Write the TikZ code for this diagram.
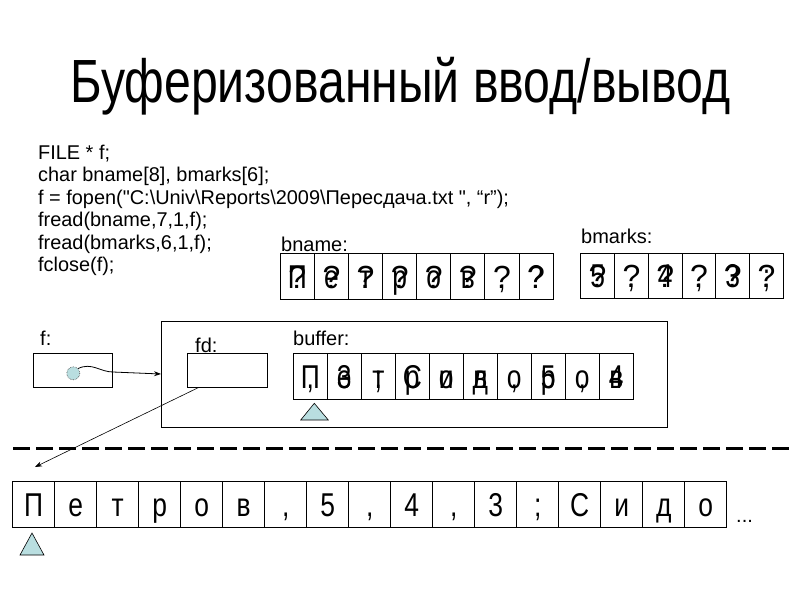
\documentclass[tikz,border=0pt]{standalone}
\usepackage{fontspec}
\setmainfont{Liberation Sans}
\newfontfamily\rawfont[Ligatures=TeXOff]{Liberation Sans}
\newfontfamily\narrowfont[FakeStretch=0.8]{Liberation Sans}
\newfontfamily\titlefont[FakeStretch=0.79]{Liberation Sans}
\usetikzlibrary{arrows.meta}
\definecolor{tri}{RGB}{185,222,224}
\newcommand\cm{,}
\newcommand\sq{{\rawfont"}}
\begin{document}
\begin{tikzpicture}[x=1pt,y=-1pt,
  box/.style={draw,line width=1pt,inner sep=0pt,outer sep=0pt},
  lbl/.style={anchor=base west,inner sep=0pt,font=\fontsize{20}{20}\selectfont},
  codeline/.style={anchor=base west,inner sep=0pt,font=\fontsize{19.9}{19.9}\selectfont},
  chr/.style={anchor=base,inner sep=0pt,font=\narrowfont\fontsize{33}{33}\selectfont},
  qm/.style={anchor=base,inner sep=0pt,font=\fontsize{32}{32}\selectfont},
  marker/.style={draw,line width=0.6pt,fill=tri},
  conn/.style={line width=0.8pt,-{Stealth[length=7pt,width=5pt]}}]
\useasboundingbox (0,0) rectangle (800,600);
\fill[white] (0,0) rectangle (800,600);

% title
\node[anchor=base,inner sep=0pt,font=\titlefont\fontsize{61}{61}\selectfont] (title) at (400.5,102) {Буферизованный ввод/вывод};

% code
\node[codeline] (c1) at (38,159.3) {FILE * f;};
\node[codeline] (c2) at (38,181.7) {char bname[8], bmarks[6];};
\node[codeline] (c3) at (38,204) {f = fopen(\sq C:\textbackslash Univ\textbackslash Reports\textbackslash 2009\textbackslash Пересдача.txt \sq, “r”);};
\node[codeline] (c4) at (38,226.7) {fread(bname,7,1,f);};
\node[codeline] (c5) at (38,249) {fread(bmarks,6,1,f);};
\node[codeline] (c6) at (38,271.7) {fclose(f);};

% bname
\node[lbl] (bnamelbl) at (281,251) {bname:};
\foreach \a/\b [count=\i] in {П/?,е/?,т/?,р/?,о/?,в/?,\cm/?,?/?}{
  \node[box,minimum width=34.1pt,minimum height=46pt] (bn\i) at ({280.3+(\i-0.5)*34.1},276) {};
  \node[chr] (bna\i) at ({280.3+(\i-0.5)*34.1},288) {\a};
  \node[qm] (bnb\i) at ({280.3+(\i-0.5)*34.1},288) {\b};
}

% bmarks
\node[lbl] (bmarkslbl) at (581,243) {bmarks:};
\foreach \a/\b [count=\i] in {5/?,\cm/?,4/?,\cm/?,3/?,;/?}{
  \node[box,minimum width=33.8pt,minimum height=45pt] (bm\i) at ({580.7+(\i-0.5)*33.8},275.8) {};
  \node[chr] (bma\i) at ({580.7+(\i-0.5)*33.8},287.8) {\a};
  \node[qm] (bmb\i) at ({580.7+(\i-0.5)*33.8},287.8) {\b};
}

% f
\node[lbl] (flbl) at (40,345) {f:};
\node[box,minimum width=79.4pt,minimum height=34.4pt] (fbox) at (73,370.5) {};
\node[circle,draw=black!70,densely dotted,line width=0.6pt,fill=tri,minimum size=13pt,inner sep=0pt] (fc) at (73.3,373.3) {};

% big structure
\node[box,minimum width=506pt,minimum height=106pt] (big) at (414,374) {};
\node[lbl] (fdlbl) at (195,352) {fd:};
\node[box,minimum width=79.6pt,minimum height=34pt] (fd) at (227.5,370.3) {};
\node[lbl] (buflbl) at (293,345) {buffer:};
\foreach \a/\b [count=\i] in {П/\cm,е/3,т/;,р/С,о/и,в/д,\cm/о,5/р,\cm/о,4/в}{
  \node[box,minimum width=34pt,minimum height=45.7pt] (bf\i) at ({293.3+(\i-0.5)*34},376.2) {};
  \node[chr] (bfa\i) at ({293.3+(\i-0.5)*34},388.2) {\a};
  \node[chr] (bfb\i) at ({293.3+(\i-0.5)*34},388.2) {\b};
}
\draw[marker] (314.3,403.3) -- (328.3,420) -- (300.7,420) -- cycle;

% arrows
\coordinate (fbend) at (113,372);
\draw[conn] (fc.north east) .. controls (92,362) and (100,372) .. (fbend) -- (big.west);
\coordinate (fdstart) at (199,387.3);
\coordinate (rowptr) at (35,467);
\draw[conn,line width=0.6pt] (fdstart) -- (rowptr);

% separator
\draw[line width=3pt,dash pattern=on 17pt off 6pt] (13,448) -- (789,448);

% file row
\foreach \a [count=\i] in {П,е,т,р,о,в,\cm,5,\cm,4,\cm,3,;,С,и,д,о}{
  \node[box,minimum width=42pt,minimum height=46pt] (fr\i) at ({12.7+(\i-0.5)*42},504) {};
  \node[chr] (fra\i) at ({12.7+(\i-0.5)*42},516) {\a};
}
\node[anchor=base west,inner sep=0pt,font=\fontsize{20}{20}\selectfont] (dots) at (736,522) {...};
\draw[marker] (32,533) -- (44,555) -- (20,555) -- cycle;
\end{tikzpicture}
\end{document}
